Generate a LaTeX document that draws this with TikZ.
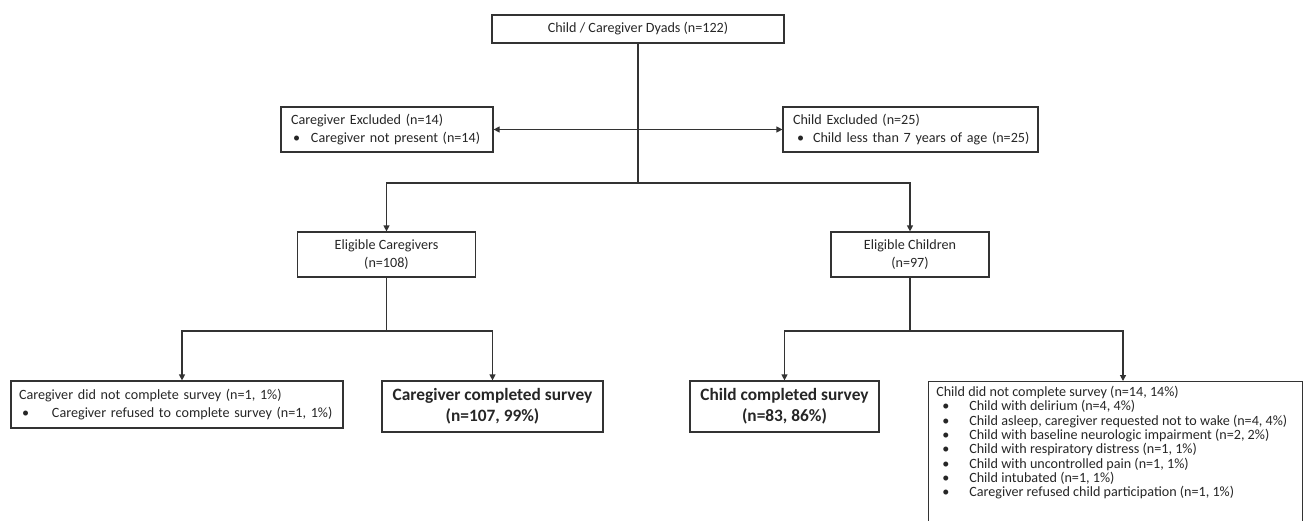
\documentclass[tikz,border=0pt]{standalone}
\usepackage{fontspec}
\setmainfont{Carlito}
\usetikzlibrary{arrows.meta}
\newdimen\pxu \pxu=0.75pt
\begin{document}
\begin{tikzpicture}[x=0.75pt,y=-0.75pt,
  box/.style={draw=black!80, line width=0.9pt, inner sep=0pt, align=center,
    text=black!85, font=\fontsize{10.6}{13.1}\selectfont},
  bigbox/.style={box, font=\fontsize{13}{15.75}\selectfont\bfseries},
  conn/.style={draw=black!80, line width=0.9pt},
  arr/.style={conn, -{Triangle[width=4.5pt,length=4.5pt]}},
  darr/.style={conn, {Triangle[width=4.5pt,length=4.5pt]}-{Triangle[width=4.5pt,length=4.5pt]}},
]
\useasboundingbox (0,0) rectangle (1304,521);

\node[box, minimum width=292\pxu, minimum height=28\pxu] (dyads) at (638,29)
  {Child / Caregiver Dyads (n=122)};

\node[box, minimum width=212\pxu, minimum height=45\pxu, text width=192\pxu,
  inner xsep=10\pxu, align=left] (cex) at (387,129.5)
  {\mbox{Caregiver Excluded (n=14)}\\\mbox{\hspace*{2\pxu}\makebox[18\pxu][l]{•}Caregiver not present (n=14)}};

\node[box, minimum width=255\pxu, minimum height=45\pxu, text width=235\pxu,
  inner xsep=10\pxu, align=left] (chex) at (910.5,129.5)
  {\mbox{Child Excluded (n=25)}\\\mbox{\hspace*{4\pxu}\makebox[16\pxu][l]{•}Child less than 7 years of age (n=25)}};

\node[box, minimum width=178\pxu, minimum height=45\pxu] (elc) at (386.5,254.5)
  {Eligible Caregivers\\(n=108)};
\node[box, minimum width=158\pxu, minimum height=45\pxu] (elch) at (910,254.5)
  {Eligible Children\\(n=97)};

\node[box, minimum width=332\pxu, minimum height=47\pxu, text width=316\pxu,
  inner xsep=8\pxu, align=left] (cnc) at (177,404.5)
  {\mbox{Caregiver did not complete survey (n=1, 1\%)}\\\mbox{\hspace*{3\pxu}\makebox[30\pxu][l]{•}Caregiver refused to complete survey (n=1, 1\%)}};

\node[bigbox, minimum width=221\pxu, minimum height=51\pxu] (cc) at (492.5,406.5)
  {Caregiver completed survey\\(n=107, 99\%)};
\node[bigbox, minimum width=189\pxu, minimum height=51\pxu] (chc) at (784.5,406.5)
  {Child completed survey\\(n=83, 86\%)};

\node[box, anchor=north west, minimum width=374\pxu, minimum height=150\pxu] (chnc) at (928,381) {};
\node[anchor=north west, align=left, inner sep=0pt, text=black!85,
  font=\fontsize{10.6}{10.75}\selectfont]
  (chnctext) at (936,386)
  {Child did not complete survey (n=14, 14\%)\\
   \hspace*{6\pxu}\makebox[27\pxu][l]{•}Child with delirium (n=4, 4\%)\\
   \hspace*{6\pxu}\makebox[27\pxu][l]{•}Child asleep, caregiver requested not to wake (n=4, 4\%)\\
   \hspace*{6\pxu}\makebox[27\pxu][l]{•}Child with baseline neurologic impairment (n=2, 2\%)\\
   \hspace*{6\pxu}\makebox[27\pxu][l]{•}Child with respiratory distress (n=1, 1\%)\\
   \hspace*{6\pxu}\makebox[27\pxu][l]{•}Child with uncontrolled pain (n=1, 1\%)\\
   \hspace*{6\pxu}\makebox[27\pxu][l]{•}Child intubated (n=1, 1\%)\\
   \hspace*{6\pxu}\makebox[27\pxu][l]{•}Caregiver refused child participation (n=1, 1\%)};

% connectors
\coordinate (j1) at (638,183);
\draw[conn] (dyads.south) -- (j1);
\draw[arr] (j1) -| (elc.north);
\draw[arr] (j1) -| (elch.north);
\draw[darr] (cex.east) -- (chex.west);

\coordinate (j2) at (386.5,331);
\draw[conn] (elc.south) -- (j2);
\draw[arr] (j2) -| ([xshift=5\pxu]cnc.north);
\draw[arr] (j2) -| (cc.north);

\coordinate (j3) at (910,331);
\draw[conn] (elch.south) -- (j3);
\draw[arr] (j3) -| (chc.north);
\draw[arr] (j3) -| ([xshift=195\pxu]chnc.north west);
\end{tikzpicture}
\end{document}
